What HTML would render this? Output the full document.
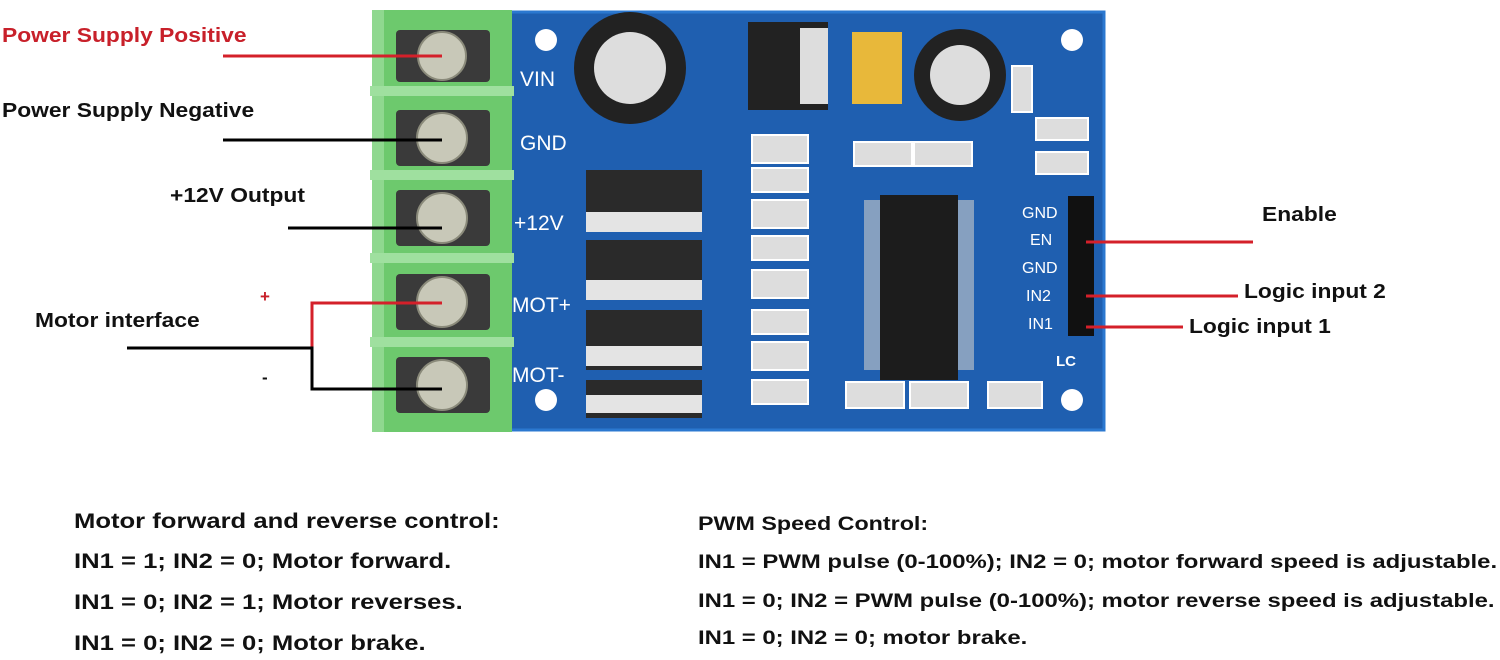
<!DOCTYPE html>
<html><head><meta charset="utf-8"><style>
body{margin:0;width:1500px;height:660px;background:#fff;overflow:hidden;position:relative;font-family:"Liberation Sans",sans-serif}
.t{position:absolute;font-weight:bold;white-space:nowrap;color:#111;transform-origin:0 0}
.a{transform:scaleX(1.14)}
.b{transform:scaleX(1.22)}
.c{transform:scaleX(1.225)}
</style></head><body>
<svg width="1500" height="660" style="position:absolute;left:0;top:0">
<rect x="506" y="12" width="598" height="418" fill="#1f5fb0"/>
<rect x="506" y="12" width="598" height="418" fill="none" stroke="#2b78d0" stroke-width="3"/>
<g fill="#fff"><circle cx="546" cy="40" r="11"/><circle cx="1072" cy="40" r="11"/><circle cx="546" cy="400" r="11"/><circle cx="1072" cy="400" r="11"/></g>
<rect x="372" y="10" width="140" height="422" fill="#6dc96d"/>
<rect x="372" y="10" width="12" height="422" fill="#8fd88f"/>
<g fill="#9fe09f"><rect x="370" y="86" width="144" height="10"/><rect x="370" y="170" width="144" height="10"/><rect x="370" y="253" width="144" height="10"/><rect x="370" y="337" width="144" height="10"/></g>
<g fill="#3a3a3a">
<rect x="396" y="30" width="94" height="52" rx="4"/><rect x="396" y="110" width="94" height="56" rx="4"/><rect x="396" y="190" width="94" height="56" rx="4"/><rect x="396" y="274" width="94" height="56" rx="4"/><rect x="396" y="357" width="94" height="56" rx="4"/></g>
<g fill="#c8c8b8" stroke="#8a8a7a" stroke-width="2">
<circle cx="442" cy="56" r="24"/><circle cx="442" cy="138" r="25"/><circle cx="442" cy="218" r="25"/><circle cx="442" cy="302" r="25"/><circle cx="442" cy="385" r="25"/></g>
<circle cx="630" cy="68" r="56" fill="#222"/><circle cx="630" cy="68" r="36" fill="#ddd"/>
<circle cx="960" cy="75" r="46" fill="#222"/><circle cx="960" cy="75" r="30" fill="#ddd"/>
<rect x="852" y="32" width="50" height="72" fill="#e8b83a"/>
<rect x="748" y="22" width="80" height="88" fill="#222"/><rect x="800" y="28" width="28" height="76" fill="#ddd"/>
<g fill="#2a2a2a"><rect x="586" y="170" width="116" height="60"/><rect x="586" y="240" width="116" height="50"/><rect x="586" y="310" width="116" height="60"/><rect x="586" y="380" width="116" height="38"/></g>
<g fill="#e4e4e4"><rect x="586" y="212" width="116" height="20"/><rect x="586" y="280" width="116" height="20"/><rect x="586" y="346" width="116" height="20"/><rect x="586" y="395" width="116" height="18"/></g>
<g fill="#ddd" stroke="#fff" stroke-width="2">
<rect x="752" y="135" width="56" height="28"/><rect x="752" y="168" width="56" height="24"/><rect x="752" y="200" width="56" height="28"/><rect x="752" y="236" width="56" height="24"/><rect x="752" y="270" width="56" height="28"/><rect x="752" y="310" width="56" height="24"/><rect x="752" y="342" width="56" height="28"/><rect x="752" y="380" width="56" height="24"/>
<rect x="854" y="142" width="58" height="24"/><rect x="914" y="142" width="58" height="24"/><rect x="1036" y="118" width="52" height="22"/><rect x="1036" y="152" width="52" height="22"/>
<rect x="846" y="382" width="58" height="26"/><rect x="910" y="382" width="58" height="26"/><rect x="988" y="382" width="54" height="26"/><rect x="1012" y="66" width="20" height="46"/></g>
<rect x="880" y="195" width="78" height="185" fill="#1c1c1c"/>
<g fill="#ccc"><rect x="864" y="200" width="16" height="170" opacity=".6"/><rect x="958" y="200" width="16" height="170" opacity=".6"/></g>
<rect x="1068" y="196" width="26" height="140" fill="#111"/>
<g fill="#fff" font-family="Liberation Sans,sans-serif" font-size="21">
<text x="520" y="86">VIN</text><text x="520" y="150">GND</text><text x="514" y="230">+12V</text><text x="512" y="312">MOT+</text><text x="512" y="382">MOT-</text>
<text x="1022" y="218" font-size="16">GND</text><text x="1030" y="245" font-size="16">EN</text><text x="1022" y="273" font-size="16">GND</text><text x="1026" y="301" font-size="16">IN2</text><text x="1028" y="329" font-size="16">IN1</text>
<text x="1056" y="366" font-size="15" font-weight="bold">LC</text></g>
<g stroke-width="3" fill="none">
<line x1="223" y1="56" x2="442" y2="56" stroke="#d4202a"/>
<line x1="223" y1="140" x2="442" y2="140" stroke="#000"/>
<line x1="288" y1="228" x2="442" y2="228" stroke="#000"/>
<polyline points="442,303 312,303 312,348" stroke="#d4202a"/>
<polyline points="127,348 312,348 312,389 442,389" stroke="#000"/>
<line x1="1086" y1="242" x2="1253" y2="242" stroke="#d4202a"/>
<line x1="1086" y1="296" x2="1238" y2="296" stroke="#d4202a"/>
<line x1="1086" y1="327" x2="1183" y2="327" stroke="#d4202a"/>
</g>
</svg>
<div class="t a" style="left:2px;top:25px;font-size:20px;color:#c8202a">Power Supply Positive</div>
<div class="t a" style="left:2px;top:100px;font-size:20px">Power Supply Negative</div>
<div class="t a" style="left:170px;top:185px;font-size:20px">+12V Output</div>
<div class="t" style="left:260px;top:287px;font-size:17px;color:#c8202a">+</div>
<div class="t a" style="left:35px;top:310px;font-size:20px">Motor interface</div>
<div class="t" style="left:262px;top:368px;font-size:17px">-</div>
<div class="t a" style="left:1262px;top:204px;font-size:20px">Enable</div>
<div class="t a" style="left:1244px;top:281px;font-size:20px">Logic input 2</div>
<div class="t a" style="left:1189px;top:316px;font-size:20px">Logic input 1</div>
<div class="t b" style="left:74px;top:510px;font-size:21px">Motor forward and reverse control:</div>
<div class="t b" style="left:74px;top:550px;font-size:21px">IN1 = 1; IN2 = 0; Motor forward.</div>
<div class="t b" style="left:74px;top:591px;font-size:21px">IN1 = 0; IN2 = 1; Motor reverses.</div>
<div class="t b" style="left:74px;top:632px;font-size:21px">IN1 = 0; IN2 = 0; Motor brake.</div>
<div class="t c" style="left:698px;top:514px;font-size:19px">PWM Speed Control:</div>
<div class="t c" style="left:698px;top:551px;font-size:19.5px">IN1 = PWM pulse (0-100%); IN2 = 0; motor forward speed is adjustable.</div>
<div class="t c" style="left:698px;top:590px;font-size:19.5px">IN1 = 0; IN2 = PWM pulse (0-100%); motor reverse speed is adjustable.</div>
<div class="t c" style="left:698px;top:627px;font-size:19.5px">IN1 = 0; IN2 = 0; motor brake.</div>
</body></html>
